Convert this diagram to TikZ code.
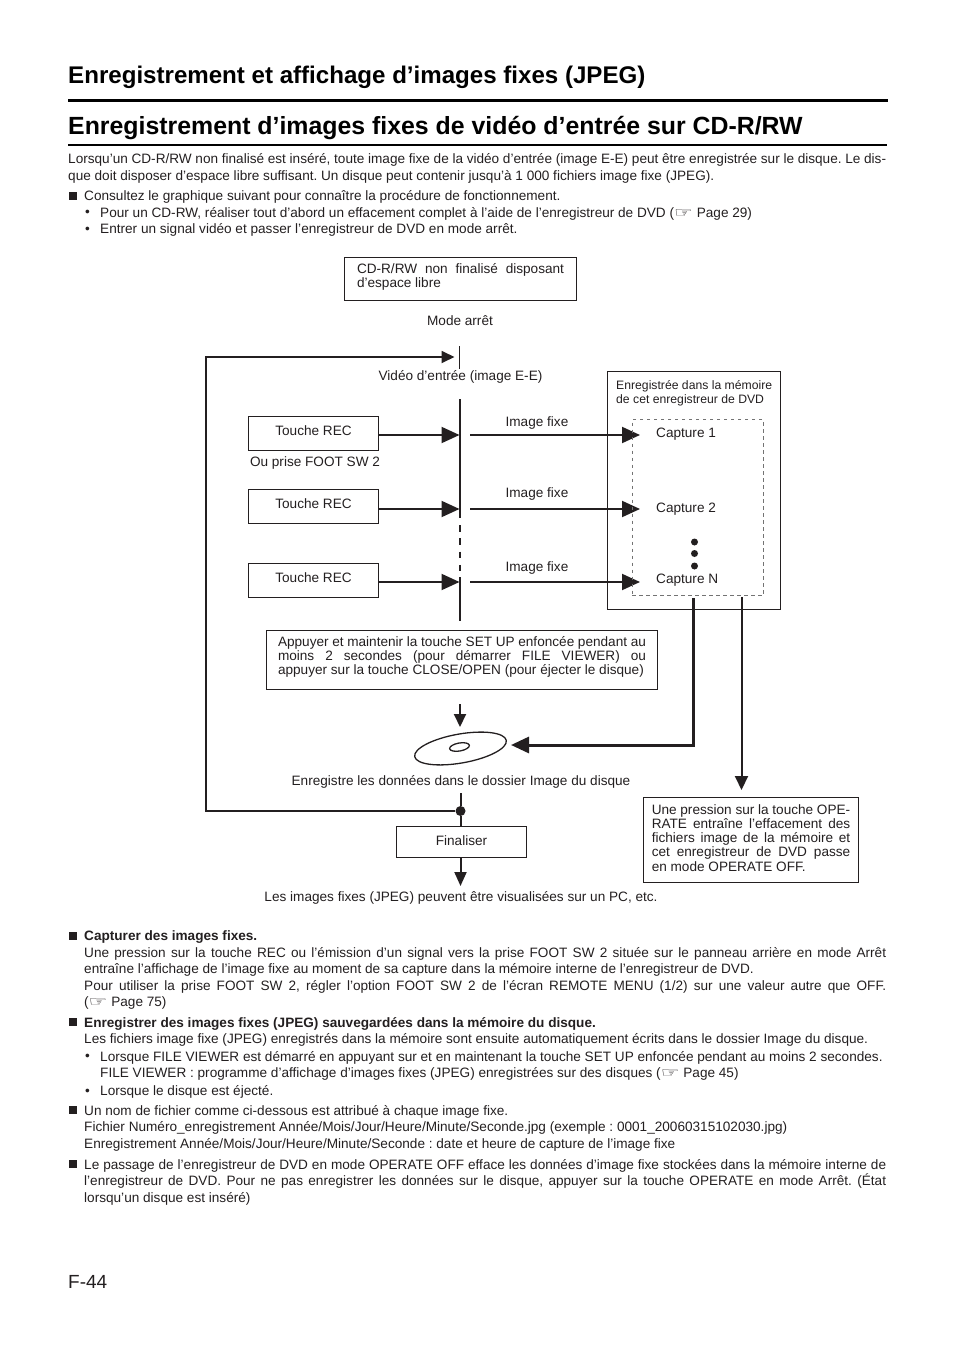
\documentclass[tikz,border=0pt]{standalone}
\usepackage{graphicx}
\usepackage{fontspec}
\setmainfont{Liberation Sans}
\newfontfamily\symfont{DejaVu Sans}
\usetikzlibrary{arrows.meta,shapes.geometric}
\definecolor{ink}{HTML}{231F20}
\newcommand{\hand}{{\symfont\fontsize{14}{11}\selectfont\scalebox{1.5}[1]{☞}}}
\newcommand{\bodyfont}{\fontsize{13.6}{16.5}\selectfont\frenchspacing\hyphenpenalty=10000\hbadness=10000 }
\newcommand{\diafont}{\fontsize{13.6}{14.3}\selectfont\frenchspacing\hyphenpenalty=10000\hbadness=10000 }
\begin{document}
\begin{tikzpicture}[x=1pt,y=-1pt,
  para/.style={anchor=north west,inner sep=0pt,font=\bodyfont,align=justify,text=ink},
  square/.style={fill=ink,inner sep=0pt,minimum size=7.5pt},
  dotmark/.style={anchor=west,inner sep=0pt,font=\bodyfont,text=ink},
  label/.style={inner sep=0pt,font=\diafont,text=ink},
  boxnode/.style={draw=ink,line width=1pt,inner sep=0pt,font=\diafont,align=justify,text=ink,text height=10pt},
  dot/.style={circle,fill=ink,inner sep=0pt,minimum size=7pt},
  bigarrow/.style={draw=ink,line width=2pt,-{Triangle[length=18pt,width=16pt]}},
  smallarrow/.style={draw=ink,line width=2pt,-{Triangle[length=13pt,width=12pt]}}]
  \useasboundingbox (0,0) rectangle (954,1351);

  \node[anchor=west,inner sep=0pt,font=\fontsize{24.1}{26}\selectfont\bfseries] (title) at (68,77.5) {Enregistrement et affichage d’images fixes (JPEG)};
  \coordinate (rule1a) at (68,100.5);
  \coordinate (rule1b) at (887.5,100.5);
  \draw[line width=3pt] (rule1a) -- (rule1b);
  \node[anchor=west,inner sep=0pt,font=\fontsize{24.86}{28}\selectfont\bfseries] (subtitle) at (68,128.5) {Enregistrement d’images fixes de vidéo d’entrée sur CD-R/RW};
  \coordinate (rule2a) at (68,145);
  \coordinate (rule2b) at (887,145);
  \draw[line width=1.5pt] (rule2a) -- (rule2b);

  \node[para,text width=818pt] (intro) at (68,153.5) {Lorsqu’un CD-R/RW non finalisé est inséré, toute image fixe de la vidéo d’entrée (image E-E) peut être enregistrée sur le disque. Le dis-\linebreak que doit disposer d’espace libre suffisant. Un disque peut contenir jusqu’à 1 000 fichiers image fixe (JPEG).};
  \node[square] (sq0) at (73,196) {};
  \node[dotmark] (item0) at (84,197) {Consultez le graphique suivant pour connaître la procédure de fonctionnement.};
  \node[dotmark] (bul1) at (85,213.5) {•};
  \node[dotmark] (item1) at (100,213.5) {Pour un CD-RW, réaliser tout d’abord un effacement complet à l’aide de l’enregistreur de DVD (\hand\ Page 29)};
  \node[dotmark] (bul2) at (85,230) {•};
  \node[dotmark] (item2) at (100,230) {Entrer un signal vidéo et passer l’enregistreur de DVD en mode arrêt.};

  \node[boxnode,minimum width=232pt,minimum height=43pt,text width=207pt,text depth=22pt] (disc free) at (460.5,279) {CD-R/RW non finalisé disposant\linebreak d’espace libre};
  \node[label] (stop) at (460,321) {Mode arrêt};
  \node[label] (video) at (460.5,376.5) {Vidéo d’entrée (image E-E)};

  \coordinate (loop top) at (206,357);
  \coordinate (stop tip) at (454.5,357);
  \coordinate (stop a) at (459.5,346);
  \coordinate (stop b) at (459.5,369);
  \draw[ink,line width=1pt] (stop a) -- (stop b);
  \coordinate (spine a) at (460,399);
  \coordinate (spine b) at (460,518);
  \coordinate (spine c) at (460,525);
  \coordinate (spine d) at (460,571);
  \coordinate (spine e) at (460,577);
  \coordinate (spine f) at (460,621);
  \draw[ink,line width=2pt] (spine a) -- (spine b);
  \draw[ink,line width=2pt,dash pattern=on 6.5pt off 6.8pt] (spine c) -- (spine d);
  \draw[ink,line width=2pt] (spine e) -- (spine f);

  \foreach \n/\y/\a in {1/433.5/435,2/506.5/509,3/580/582} {
    \node[boxnode,align=center,minimum width=130pt,minimum height=34pt,text depth=6pt] (rec\n) at (313.5,\y) {Touche REC};
    \coordinate (in\n) at (459.5,\a);
    \coordinate (out\n) at (470,\a);
    \coordinate (cap\n) at (640,\a);
    \draw[bigarrow] (rec\n.east |- in\n) -- (in\n);
    \draw[bigarrow] (out\n) -- (cap\n);
  }
  \node[label] (foot) at (315,463) {Ou prise FOOT SW 2};
  \node[label] (still1) at (537,423) {Image fixe};
  \node[label] (still2) at (537,494) {Image fixe};
  \node[label] (still3) at (537,568) {Image fixe};

  \node[draw=ink,line width=1pt,inner sep=0pt,minimum width=173pt,minimum height=238pt] (memory) at (694,490.5) {};
  \node[draw=black!55,dash pattern=on 3.5pt off 3.5pt,line width=1pt,inner sep=0pt,minimum width=131pt,minimum height=176pt] (files) at (697.5,507.5) {};
  \node[anchor=north west,inner sep=0pt,font=\fontsize{12.2}{14}\selectfont,align=left,text=ink] (memtext) at (616,380) {Enregistrée dans la mémoire\\de cet enregistreur de DVD};
  \node[label,anchor=west] (capture1) at (656,434) {Capture 1};
  \node[label,anchor=west] (capture2) at (656,509) {Capture 2};
  \node[label,anchor=west] (captureN) at (656,580) {Capture N};
  \node[dot] (dot1) at (694.5,542) {};
  \node[dot] (dot2) at (694.5,553.5) {};
  \node[dot] (dot3) at (694.5,566) {};

  \node[boxnode,minimum width=391pt,minimum height=59pt,text width=368pt,text depth=37pt] (setup) at (462,659.5) {Appuyer et maintenir la touche SET UP enfoncée pendant au\linebreak moins 2 secondes (pour démarrer FILE VIEWER) ou\linebreak appuyer sur la touche CLOSE/OPEN (pour éjecter le disque)};
  \coordinate (write a) at (460,704);
  \coordinate (write b) at (460,727);
  \draw[smallarrow] (write a) -- (write b);
  \node[ellipse,draw=ink,line width=1.3pt,inner sep=0pt,minimum width=93pt,minimum height=29pt,rotate=10] (disc) at (460.5,748.5) {};
  \node[ellipse,draw=ink,line width=1.3pt,inner sep=0pt,minimum width=20pt,minimum height=8pt,rotate=10] (hole) at (459.5,747) {};
  \coordinate (mem out) at (693.5,598);
  \coordinate (mem corner) at (693.5,745);
  \coordinate (disc in) at (511,745);
  \draw[bigarrow,line width=3pt,miter limit=10] (mem out) -- (mem corner) -- (disc in);
  \coordinate (erase a) at (741.5,597);
  \coordinate (erase b) at (741.5,790);
  \draw[smallarrow,-{Triangle[length=14pt,width=13pt]}] (erase a) -- (erase b);
  \node[label] (stored) at (461,781.5) {Enregistre les données dans le dossier Image du disque};
  \coordinate (branch) at (460.5,811);
  \coordinate (stored out) at (460.5,793);
  \node[boxnode,align=center,minimum width=130pt,minimum height=31pt,text depth=4pt] (final) at (461.5,842) {Finaliser};
  \node[dot,minimum size=10pt] (junction) at (branch) {};
  \draw[ink,line width=2pt] (stored out) -- (junction) -- (junction |- final.north);
  \draw[smallarrow,line width=1.8pt] (junction) -| (loop top) -- (stop tip);
  \coordinate (pc) at (460.5,886);
  \draw[smallarrow,-{Triangle[length=14pt,width=12pt]}] (pc |- final.south) -- (pc);
  \node[label] (view) at (461,897.5) {Les images fixes (JPEG) peuvent être visualisées sur un PC, etc.};
  \node[boxnode,minimum width=215pt,minimum height=84.5pt,text width=198.5pt,text depth=62.4pt] (operate) at (751,840.2) {Une pression sur la touche OPE-\linebreak RATE entraîne l’effacement des\linebreak fichiers image de la mémoire et\linebreak cet enregistreur de DVD passe\linebreak en mode OPERATE OFF.};

  \node[square] (sq1) at (73,936) {};
  \node[para,text width=802pt] (note1) at (84,930.5) {\textbf{Capturer des images fixes.}\\Une pression sur la touche REC ou l’émission d’un signal vers la prise FOOT SW 2 située sur le panneau arrière en mode Arrêt\linebreak entraîne l’affichage de l’image fixe au moment de sa capture dans la mémoire interne de l’enregistreur de DVD.\\Pour utiliser la prise FOOT SW 2, régler l’option FOOT SW 2 de l’écran REMOTE MENU (1/2) sur une valeur autre que OFF.\linebreak (\hand\ Page 75)};
  \node[square] (sq2) at (73,1022) {};
  \node[para,text width=802pt] (note2) at (84,1017) {\textbf{Enregistrer des images fixes (JPEG) sauvegardées dans la mémoire du disque.}\\Les fichiers image fixe (JPEG) enregistrés dans la mémoire sont ensuite automatiquement écrits dans le dossier Image du disque.};
  \node[dotmark] (bul3) at (85,1057.5) {•};
  \node[dotmark] (item3) at (100,1057.5) {Lorsque FILE VIEWER est démarré en appuyant sur et en maintenant la touche SET UP enfoncée pendant au moins 2 secondes.};
  \node[dotmark] (item4) at (100,1074) {FILE VIEWER : programme d’affichage d’images fixes (JPEG) enregistrées sur des disques (\hand\ Page 45)};
  \node[dotmark] (bul4) at (85,1092) {•};
  \node[dotmark] (item5) at (100,1092) {Lorsque le disque est éjecté.};
  \node[square] (sq3) at (73,1110) {};
  \node[para,text width=802pt] (note3) at (84,1105) {Un nom de fichier comme ci-dessous est attribué à chaque image fixe.\\Fichier Numéro\_enregistrement Année/Mois/Jour/Heure/Minute/Seconde.jpg (exemple : 0001\_20060315102030.jpg)\\Enregistrement Année/Mois/Jour/Heure/Minute/Seconde : date et heure de capture de l’image fixe};
  \node[square] (sq4) at (73,1164) {};
  \node[para,text width=802pt] (note4) at (84,1159) {Le passage de l’enregistreur de DVD en mode OPERATE OFF efface les données d’image fixe stockées dans la mémoire interne de\linebreak l’enregistreur de DVD. Pour ne pas enregistrer les données sur le disque, appuyer sur la touche OPERATE en mode Arrêt. (État\linebreak lorsqu’un disque est inséré)};

  \node[anchor=west,inner sep=0pt,font=\fontsize{19}{24}\selectfont,text=ink] (page) at (68,1281.5) {F-44};
\end{tikzpicture}
\end{document}
